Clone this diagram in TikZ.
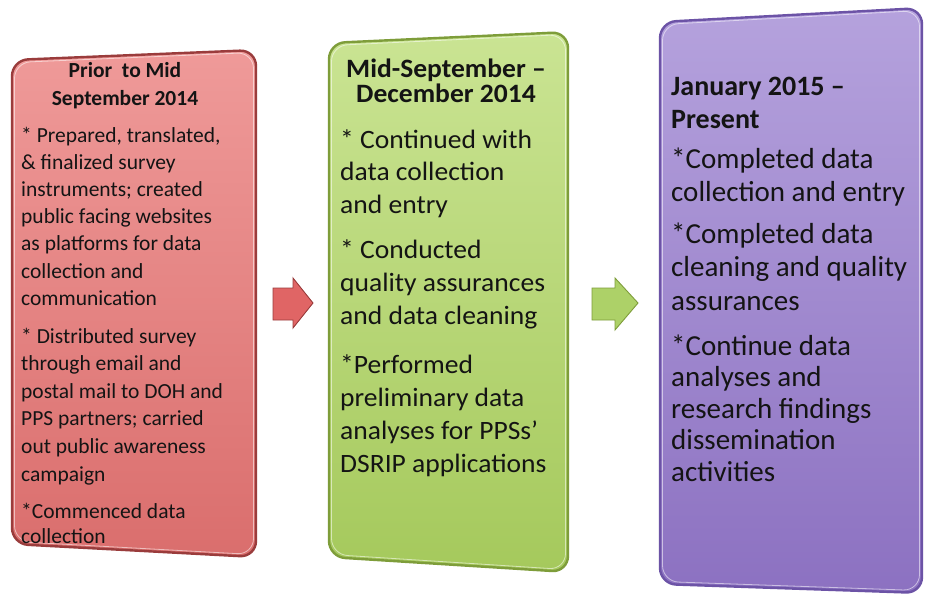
\documentclass[tikz,border=0pt]{standalone}
\usepackage{fontspec}
\setmainfont{Carlito}
\newfontfamily\greenfont[FakeStretch=1.04,Ligatures=TeX]{Carlito}
\usetikzlibrary{calc}
\definecolor{redTop}{HTML}{EF9A99}
\definecolor{redMid}{HTML}{E78180}
\definecolor{redBot}{HTML}{DA6E6D}
\definecolor{redRim}{HTML}{9A3C3C}
\definecolor{redArr}{HTML}{E06565}
\definecolor{grnTop}{HTML}{CAE493}
\definecolor{grnMid}{HTML}{B7D674}
\definecolor{grnBot}{HTML}{A5C95C}
\definecolor{grnRim}{HTML}{7E9D3A}
\definecolor{grnArr}{HTML}{ADD168}
\definecolor{purTop}{HTML}{B5A2DD}
\definecolor{purMid}{HTML}{A08AD2}
\definecolor{purBot}{HTML}{8C71C1}
\definecolor{purRim}{HTML}{6C53A6}
\definecolor{txtCol}{HTML}{141414}
\tikzset{
  boxpath/.style={rounded corners=16},
  rim/.style={boxpath, line width=2.4},
  hilite/.style={boxpath, line width=0.8, white, opacity=0.55},
  txt/.style={inner sep=0, anchor=base west, text=txtCol},
  hdr/.style={inner sep=0, anchor=base, text=txtCol},
  blockarrow/.style={line width=0.9, line join=miter},
}
\begin{document}
\begin{tikzpicture}[x=1pt,y=-1pt]
\useasboundingbox (0,0) rectangle (925,598);
\fill[white] (0,0) rectangle (925,598);

% ---- box corners
\coordinate (rTL) at (12,60);  \coordinate (rTR) at (256,50);
\coordinate (rBR) at (256,557); \coordinate (rBL) at (12,544);
\coordinate (gTL) at (329,43); \coordinate (gTR) at (568,32);
\coordinate (gBR) at (568,572); \coordinate (gBL) at (329,557);
\coordinate (pTL) at (660,22); \coordinate (pTR) at (922,8);
\coordinate (pBR) at (922,593); \coordinate (pBL) at (660,584);

% ---- red box
\shade[boxpath, top color=redTop, middle color=redMid, bottom color=redBot]
  (rTL)--(rTR)--(rBR)--(rBL)--cycle;
\draw[rim, redRim] (rTL)--(rTR)--(rBR)--(rBL)--cycle;
\draw[hilite] ($(rTL)+(2.5,2.5)$)--($(rTR)+(-2.5,2.5)$)--($(rBR)+(-2.5,-2.5)$)--($(rBL)+(2.5,-2.5)$)--cycle;

% ---- green box
\shade[boxpath, top color=grnTop, middle color=grnMid, bottom color=grnBot]
  (gTL)--(gTR)--(gBR)--(gBL)--cycle;
\draw[rim, grnRim] (gTL)--(gTR)--(gBR)--(gBL)--cycle;
\draw[hilite] ($(gTL)+(2.5,2.5)$)--($(gTR)+(-2.5,2.5)$)--($(gBR)+(-2.5,-2.5)$)--($(gBL)+(2.5,-2.5)$)--cycle;

% ---- purple box
\shade[boxpath, top color=purTop, middle color=purMid, bottom color=purBot]
  (pTL)--(pTR)--(pBR)--(pBL)--cycle;
\draw[rim, purRim] (pTL)--(pTR)--(pBR)--(pBL)--cycle;
\draw[hilite] ($(pTL)+(2.5,2.5)$)--($(pTR)+(-2.5,2.5)$)--($(pBR)+(-2.5,-2.5)$)--($(pBL)+(2.5,-2.5)$)--cycle;

% ---- block arrows
\coordinate (a1) at (273,288);
\draw[blockarrow, fill=redArr, draw=redRim]
  (a1) -- ++(20,0) -- ++(0,-10) -- ++(20,25) -- ++(-20,25) -- ++(0,-8) -- ++(-20,0) -- cycle;
\coordinate (a2) at (592,288);
\draw[blockarrow, fill=grnArr, draw=grnRim]
  (a2) -- ++(23,0) -- ++(0,-10) -- ++(23,25) -- ++(-23,27) -- ++(0,-10) -- ++(-23,0) -- cycle;

% ---- red text
\node[hdr] (rh) at (125,77) {\fontsize{21.5}{28}\selectfont\bfseries
  \begin{tabular}[t]{@{}c@{}}Prior~ to Mid\\ September 2014\end{tabular}};
\node[txt] (r1) at (21,142) {\fontsize{21.5}{27.2}\selectfont
  \begin{tabular}[t]{@{}l@{}}* Prepared, translated,\\ \& finalized survey\\ instruments; created\\ public facing websites\\ as platforms for data\\ collection and\\ communication\end{tabular}};
\node[txt] (r2) at (21,343) {\fontsize{21.5}{27.6}\selectfont
  \begin{tabular}[t]{@{}l@{}}* Distributed survey\\ through email and\\ postal mail to DOH and\\ PPS partners; carried\\ out public awareness\\ campaign\end{tabular}};
\node[txt] (r3) at (21,518) {\fontsize{21.5}{25}\selectfont
  \begin{tabular}[t]{@{}l@{}}*Commenced data\\ collection\end{tabular}};

% ---- green text
\node[hdr] (gh) at (446,77) {\greenfont\fontsize{26.5}{24}\selectfont\bfseries
  \begin{tabular}[t]{@{}c@{}}Mid-September –\\ December 2014\end{tabular}};
\node[txt] (g1) at (340,148) {\greenfont\fontsize{26.5}{32.8}\selectfont
  \begin{tabular}[t]{@{}l@{}}* Continued with\\ data collection\\ and entry\end{tabular}};
\node[txt] (g2) at (340,258) {\greenfont\fontsize{26.5}{33}\selectfont
  \begin{tabular}[t]{@{}l@{}}* Conducted\\ quality assurances\\ and data cleaning\end{tabular}};
\node[txt] (g3) at (340,373) {\greenfont\fontsize{26.5}{33}\selectfont
  \begin{tabular}[t]{@{}l@{}}*Performed\\ preliminary data\\ analyses for PPSs’\\ DSRIP applications\end{tabular}};

% ---- purple text
\node[txt] (ph) at (671,95) {\fontsize{28}{33}\selectfont\bfseries
  \begin{tabular}[t]{@{}l@{}}January 2015 –\\ Present\end{tabular}};
\node[txt] (p1) at (671,168) {\fontsize{29}{33.5}\selectfont
  \begin{tabular}[t]{@{}l@{}}*Completed data\\ collection and entry\end{tabular}};
\node[txt] (p2) at (671,243) {\fontsize{29}{33.5}\selectfont
  \begin{tabular}[t]{@{}l@{}}*Completed data\\ cleaning and quality\\ assurances\end{tabular}};
\node[txt] (p3) at (671,355) {\fontsize{29}{31.5}\selectfont
  \begin{tabular}[t]{@{}l@{}}*Continue data\\ analyses and\\ research findings\\ dissemination\\ activities\end{tabular}};
\end{tikzpicture}
\end{document}
